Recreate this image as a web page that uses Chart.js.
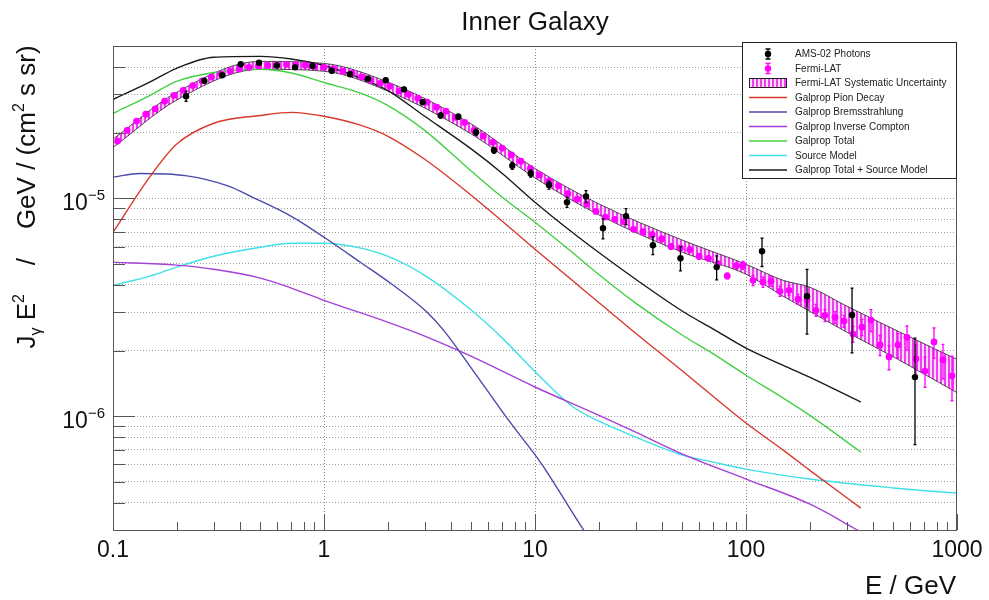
<!DOCTYPE html>
<html>
<head>
<meta charset="utf-8">
<script src="https://cdn.jsdelivr.net/npm/chart.js@4.4.1/dist/chart.umd.min.js"></script>
<style>
  html, body { margin: 0; padding: 0; background: #fff; }
</style>
</head>
<body>
<canvas id="spectrum" width="989" height="600"></canvas>
<script>
// ---- data (E in GeV, flux in GeV / (cm^2 s sr)) ----
var modelE = [0.1, 0.15, 0.2, 0.3, 0.5, 0.7, 1, 1.5, 2, 3, 5, 7, 10, 15, 20, 30, 50, 70, 100, 150, 200, 350];
var totalPlusSource = [2.84e-5, 3.42e-5, 3.95e-5, 4.44e-5, 4.48e-5, 4.36e-5, 4.07e-5, 3.55e-5, 3.13e-5, 2.38e-5, 1.68e-5, 1.30e-5, 9.59e-6, 6.98e-6, 5.65e-6, 4.25e-6, 3.03e-6, 2.51e-6, 2.05e-6, 1.71e-6, 1.51e-6, 1.16e-6];
var galpropTotal = [2.45e-5, 2.97e-5, 3.44e-5, 3.78e-5, 3.91e-5, 3.76e-5, 3.40e-5, 3.03e-5, 2.67e-5, 2.05e-5, 1.33e-5, 1.01e-5, 7.76e-6, 5.65e-6, 4.48e-6, 3.30e-6, 2.35e-6, 1.93e-6, 1.54e-6, 1.21e-6, 1.01e-6, 6.84e-7];
var pionDecay = [6.98e-6, 1.26e-5, 1.77e-5, 2.21e-5, 2.40e-5, 2.48e-5, 2.38e-5, 2.16e-5, 1.93e-5, 1.51e-5, 1.03e-5, 7.84e-6, 5.83e-6, 4.2e-6, 3.33e-6, 2.40e-6, 1.61e-6, 1.23e-6, 9.29e-7, 6.98e-7, 5.65e-7, 3.78e-7];

var bremsE = [0.1, 0.134, 0.22, 0.35, 0.46, 0.71, 1.03, 1.48, 2.12, 3.08, 3.66, 5.3, 7.6, 10.6, 16.9, 22];
var brems = [1.25e-5, 1.30e-5, 1.27e-5, 1.14e-5, 1.01e-5, 8.2e-6, 6.5e-6, 5.1e-6, 4.0e-6, 3.0e-6, 2.5e-6, 1.53e-6, 9.4e-7, 6.15e-7, 3.03e-7, 2.1e-7];

var icE = [0.1, 0.2, 0.3, 0.5, 0.7, 1, 2, 3, 5, 10, 20, 30, 50, 100, 200, 350];
var inverseCompton = [5.09e-6, 4.93e-6, 4.72e-6, 4.30e-6, 3.87e-6, 3.40e-6, 2.70e-6, 2.33e-6, 1.88e-6, 1.36e-6, 1.01e-6, 8.44e-7, 6.69e-7, 5.14e-7, 3.95e-7, 2.94e-7];

var sourceE = [0.1, 0.15, 0.2, 0.3, 0.5, 0.7, 1, 1.5, 2, 3, 5, 7, 10, 15, 20, 30, 50, 70, 100, 200, 500, 1000];
var sourceModel = [3.99e-6, 4.39e-6, 4.83e-6, 5.42e-6, 5.96e-6, 6.22e-6, 6.22e-6, 5.90e-6, 5.42e-6, 4.43e-6, 3.06e-6, 2.28e-6, 1.6e-6, 1.11e-6, 9.5e-7, 8.01e-7, 6.62e-7, 6.15e-7, 5.71e-7, 5.14e-7, 4.68e-7, 4.43e-7];

var bandE = [0.1, 0.2, 0.5, 1, 2, 5, 10, 20, 50, 100, 150, 200, 300, 500, 1000];
var bandUpper = [1.87e-5, 3.06e-5, 4.25e-5, 4.16e-5, 3.42e-5, 2.19e-5, 1.37e-5, 9.44e-6, 6.42e-6, 4.98e-6, 4.2e-6, 3.91e-6, 3.20e-6, 2.51e-6, 1.82e-6];
var bandLower = [1.71e-5, 2.82e-5, 3.91e-5, 3.83e-5, 3.11e-5, 1.97e-5, 1.24e-5, 8.40e-6, 5.65e-6, 4.48e-6, 3.55e-6, 3.03e-6, 2.43e-6, 1.87e-6, 1.28e-6];

var fermiE = [0.1052, 0.1166, 0.1292, 0.1431, 0.1585, 0.1756, 0.1945, 0.2154, 0.2387, 0.2644, 0.2929, 0.3245, 0.3594, 0.3981, 0.441, 0.4886, 0.5412, 0.5995, 0.6642, 0.7356, 0.815, 0.9028,
  1.0, 1.108, 1.227, 1.359, 1.506, 1.668, 1.848, 2.047, 2.268, 2.512, 2.783, 3.083, 3.415, 3.783, 4.19, 4.642, 5.142, 5.696, 6.31, 6.99, 7.743, 8.577, 9.502,
  10.52, 11.66, 12.92, 14.31, 15.85, 17.56, 19.45, 21.54, 23.87, 26.44, 29.29, 32.45, 35.94, 39.81, 44.1, 48.86, 54.12, 59.95, 66.42, 73.56, 81.5, 90.28,
  96.8, 108, 120.4, 131.4, 144.9, 159.9, 176.4, 194.6, 214.7, 236.7, 264.1, 291.4, 321.5, 354.6, 391.2, 431.6, 476.1, 525.3, 579.4, 639.2, 705.1, 778, 858.1, 946.9];
var fermiFlux = [1.83e-5, 2.05e-5, 2.26e-5, 2.43e-5, 2.57e-5, 2.79e-5, 2.97e-5, 3.13e-5, 3.29e-5, 3.46e-5, 3.60e-5, 3.72e-5, 3.84e-5, 3.92e-5, 3.99e-5, 4.05e-5, 4.07e-5, 4.09e-5, 4.12e-5, 4.10e-5, 4.08e-5, 4.03e-5,
  3.99e-5, 3.93e-5, 3.83e-5, 3.75e-5, 3.61e-5, 3.48e-5, 3.37e-5, 3.27e-5, 3.11e-5, 3.00e-5, 2.88e-5, 2.76e-5, 2.62e-5, 2.51e-5, 2.35e-5, 2.23e-5, 2.05e-5, 1.93e-5, 1.81e-5, 1.70e-5, 1.58e-5, 1.48e-5, 1.37e-5,
  1.28e-5, 1.20e-5, 1.14e-5, 1.05e-5, 9.9e-6, 9.4e-6, 8.7e-6, 8.2e-6, 8.0e-6, 7.8e-6, 7.2e-6, 7.0e-6, 6.8e-6, 6.5e-6, 6.0e-6, 5.9e-6, 5.8e-6, 5.4e-6, 5.3e-6, 5.0e-6, 4.4e-6, 4.9e-6,
  4.93e-6, 4.2e-6, 4.12e-6, 4.16e-6, 3.74e-6, 3.78e-6, 3.44e-6, 3.41e-6, 3.06e-6, 2.9e-6, 2.84e-6, 2.73e-6, 2.38e-6, 2.56e-6, 2.76e-6, 2.12e-6, 1.87e-6, 2.12e-6, 2.3e-6, 1.83e-6, 1.61e-6, 2.19e-6, 1.81e-6, 1.53e-6];
// relative errors of the Fermi points
var fermiRelErr = [0.01, 0.01, 0.01, 0.01, 0.01, 0.01, 0.01, 0.01, 0.01, 0.01, 0.01, 0.01, 0.01, 0.01, 0.01, 0.01, 0.01, 0.01, 0.01, 0.01, 0.01, 0.01,
  0.012, 0.012, 0.012, 0.012, 0.012, 0.012, 0.012, 0.012, 0.012, 0.012, 0.012, 0.012, 0.012, 0.012, 0.012, 0.012, 0.012, 0.012, 0.012, 0.012, 0.012, 0.012, 0.012,
  0.02, 0.02, 0.02, 0.02, 0.02, 0.02, 0.02, 0.02, 0.02, 0.02, 0.02, 0.03, 0.03, 0.03, 0.03, 0.03, 0.03, 0.03, 0.03, 0.03, 0.03, 0.03,
  0.042, 0.053, 0.053, 0.053, 0.053, 0.053, 0.053, 0.063, 0.063, 0.063, 0.063, 0.063, 0.085, 0.085, 0.116, 0.106, 0.127, 0.127, 0.127, 0.159, 0.159, 0.159, 0.18, 0.233];

var amsE = [0.222, 0.271, 0.329, 0.403, 0.492, 0.597, 0.729, 0.882, 1.088, 1.328, 1.616, 1.961, 2.394, 2.936, 3.574, 4.331, 5.254, 6.393, 7.805, 9.541, 11.65, 14.18, 17.45, 21.0, 27.0, 36.2, 48.9, 72.6, 119.1, 194.6, 318.1, 632.2];
var amsFlux = [2.94e-5, 3.46e-5, 3.67e-5, 4.12e-5, 4.19e-5, 4.07e-5, 3.99e-5, 4.05e-5, 3.85e-5, 3.71e-5, 3.54e-5, 3.48e-5, 3.16e-5, 2.76e-5, 2.40e-5, 2.37e-5, 2.01e-5, 1.66e-5, 1.41e-5, 1.30e-5, 1.15e-5, 9.59e-6, 1.02e-5, 7.28e-6, 8.27e-6, 6.09e-6, 5.31e-6, 4.83e-6, 5.71e-6, 3.55e-6, 2.91e-6, 1.51e-6];
var amsErr = [1.56e-6, 0.73e-6, 0.77e-6, 0.87e-6, 0.88e-6, 0.85e-6, 0.84e-6, 0.85e-6, 0.81e-6, 0.78e-6, 0.74e-6, 0.73e-6, 0.66e-6, 0.58e-6, 0.63e-6, 0.62e-6, 0.64e-6, 0.53e-6, 0.52e-6, 0.48e-6, 0.48e-6, 0.51e-6, 0.65e-6, 0.77e-6, 0.70e-6, 0.58e-6, 0.67e-6, 0.61e-6, 0.85e-6, 1.17e-6, 0.96e-6, 0.77e-6];

// axes
var xTickValues = [0.1, 0.2, 0.3, 0.4, 0.5, 0.6, 0.7, 0.8, 0.9, 1, 2, 3, 4, 5, 6, 7, 8, 9, 10, 20, 30, 40, 50, 60, 70, 80, 90, 100, 200, 300, 400, 500, 600, 700, 800, 900, 1000];
var yTickValues = [3e-7, 4e-7, 5e-7, 6e-7, 7e-7, 8e-7, 9e-7, 1e-6, 2e-6, 3e-6, 4e-6, 5e-6, 6e-6, 7e-6, 8e-6, 9e-6, 1e-5, 2e-5, 3e-5, 4e-5];
var xLabelValues = [0.1, 1, 10, 100, 1000];
var xLabels = ['0.1', '1', '10', '100', '1000'];
var yLabelValues = [1e-6, 1e-5];
var yLabelExps = ['\u22126', '\u22125'];

var FONT = '"Liberation Sans", Arial, Helvetica, sans-serif';

function pairs(xs, ys) {
    return xs.map(function (x, i) { return { x: x, y: ys[i] }; });
}
function isDecade(v) {
    var l = Math.log10(v);
    return Math.abs(l - Math.round(l)) < 1e-9;
}

var canvas = document.getElementById('spectrum');
var ctx = canvas.getContext('2d');

// hatch used by the systematic band
var hatch = document.createElement('canvas');
hatch.width = 4; hatch.height = 4;
var hctx = hatch.getContext('2d');
hctx.fillStyle = 'rgba(255,175,255,0.45)';
hctx.fillRect(0, 0, 4, 4);
hctx.fillStyle = 'rgba(230,0,230,0.7)';
hctx.fillRect(0, 0, 2, 4);
var hatchPattern = ctx.createPattern(hatch, 'repeat');

function curve(label, xs, ys, color) {
    return {
        label: label, data: pairs(xs, ys), borderColor: color, backgroundColor: color,
        borderWidth: 1.4, pointRadius: 0, fill: false, cubicInterpolationMode: 'monotone', order: 2
    };
}

var amsData = pairs(amsE, amsFlux);
var fermiData = pairs(fermiE, fermiFlux);

var datasets = [
    { label: 'AMS-02 Photons', data: amsData, errors: amsErr, errorColor: '#000', showLine: false,
      pointRadius: 3.2, pointBackgroundColor: '#000', pointBorderWidth: 0, borderColor: '#000', order: 0, kind: 'marker' },
    { label: 'Fermi-LAT', data: fermiData, errors: fermiFlux.map(function (f, i) { return f * fermiRelErr[i]; }),
      errorColor: '#ff00ff', showLine: false, pointRadius: 3.4, pointBackgroundColor: '#ff00ff', pointBorderWidth: 0,
      borderColor: '#ff00ff', order: 1, kind: 'marker' },
    { label: 'band-upper', data: pairs(bandE, bandUpper), borderColor: '#222', borderWidth: 0.8, pointRadius: 0,
      fill: false, cubicInterpolationMode: 'monotone', order: 5 },
    { label: 'Fermi-LAT Systematic Uncertainty', data: pairs(bandE, bandLower), borderColor: '#222', borderWidth: 0.8,
      pointRadius: 0, fill: '-1', backgroundColor: hatchPattern, cubicInterpolationMode: 'monotone', order: 5, kind: 'band' },
    curve('Galprop Pion Decay', modelE, pionDecay, '#d8392b'),
    curve('Galprop Bremsstrahlung', bremsE, brems, '#4a4aa8'),
    curve('Galprop Inverse Compton', icE, inverseCompton, '#a640d8'),
    curve('Galprop Total', modelE, galpropTotal, '#44d044'),
    curve('Source Model', sourceE, sourceModel, '#3fe0e6'),
    curve('Galprop Total + Source Model', modelE, totalPlusSource, '#1a1a1a')
];

var errorBars = {
    id: 'errorBars',
    beforeDatasetDraw: function (chart, args) {
        var ds = chart.data.datasets[args.index];
        if (!ds.errors) return;
        var c = chart.ctx, xs = chart.scales.x, ys = chart.scales.y, a = chart.chartArea;
        c.save();
        c.beginPath();
        c.rect(a.left, a.top, a.right - a.left, a.bottom - a.top);
        c.clip();
        c.strokeStyle = ds.errorColor;
        c.lineWidth = 1.3;
        ds.data.forEach(function (p, i) {
            var px = xs.getPixelForValue(p.x);
            var top = ys.getPixelForValue(p.y + ds.errors[i]);
            var bot = ys.getPixelForValue(Math.max(p.y - ds.errors[i], 1e-9));
            c.beginPath();
            c.moveTo(px, top); c.lineTo(px, bot);
            c.moveTo(px - 1.5, top); c.lineTo(px + 1.5, top);
            c.moveTo(px - 1.5, bot); c.lineTo(px + 1.5, bot);
            c.stroke();
        });
        c.restore();
    }
};

function drawRich(c, parts, x, y, align) {
    var total = 0;
    parts.forEach(function (p) {
        c.font = p.s + 'px ' + FONT;
        p.w = c.measureText(p.t).width;
        total += p.w;
    });
    var cx = align === 'right' ? x - total : (align === 'center' ? x - total / 2 : x);
    parts.forEach(function (p) {
        c.font = p.s + 'px ' + FONT;
        c.fillText(p.t, cx, y + (p.dy || 0));
        cx += p.w;
    });
}

var rootFrame = {
    id: 'rootFrame',
    afterDraw: function (chart) {
        var c = chart.ctx, a = chart.chartArea, xs = chart.scales.x, ys = chart.scales.y;
        c.save();
        c.strokeStyle = '#555';
        c.lineWidth = 1;
        c.strokeRect(a.left + 0.5, a.top + 0.5, a.right - a.left - 1, a.bottom - a.top);
        c.beginPath();
        xTickValues.forEach(function (v) {
            var px = Math.round(xs.getPixelForValue(v)) + 0.5;
            var len = isDecade(v) ? 16 : 8;
            c.moveTo(px, a.bottom); c.lineTo(px, a.bottom - len);
        });
        yTickValues.forEach(function (v) {
            var py = Math.round(ys.getPixelForValue(v)) + 0.5;
            var len = isDecade(v) ? 22 : 12;
            c.moveTo(a.left, py); c.lineTo(a.left + len, py);
        });
        c.stroke();

        c.fillStyle = '#111';
        c.textBaseline = 'alphabetic';
        c.textAlign = 'left';
        xLabelValues.forEach(function (v, i) {
            drawRich(c, [{ t: xLabels[i], s: 23 }], xs.getPixelForValue(v), 557, 'center');
        });
        yLabelValues.forEach(function (v, i) {
            var py = ys.getPixelForValue(v);
            drawRich(c, [{ t: '10', s: 23 }, { t: yLabelExps[i], s: 15, dy: -10 }], 105, py + 11.5, 'right');
        });

        // titles
        drawRich(c, [{ t: 'Inner Galaxy', s: 26 }], 535, 30, 'center');
        drawRich(c, [{ t: 'E / GeV', s: 26 }], 956, 594, 'right');
        c.save();
        c.translate(35, 197);
        c.rotate(-Math.PI / 2);
        drawRich(c, [
            { t: 'J', s: 26 }, { t: '\u03b3', s: 16, dy: 6 }, { t: ' E', s: 26 }, { t: '2', s: 16, dy: -11 },
            { t: '    /    GeV / (cm', s: 26 }, { t: '2', s: 16, dy: -11 }, { t: ' s sr)', s: 26 }
        ], 0, 0, 'center');
        c.restore();

        // legend box
        var L = { left: 742, top: 42, right: 957, bottom: 178 };
        c.fillStyle = '#fff';
        c.fillRect(L.left, L.top, L.right - L.left, L.bottom - L.top);
        c.strokeStyle = '#222';
        c.strokeRect(L.left + 0.5, L.top + 0.5, L.right - L.left - 1, L.bottom - L.top);
        var rowY = L.top + 12;
        c.font = '10px ' + FONT;
        c.textBaseline = 'middle';
        chart.data.datasets.forEach(function (ds) {
            if (ds.label === 'band-upper') return;
            var y = rowY;
            if (ds.kind === 'marker') {
                c.strokeStyle = ds.errorColor; c.lineWidth = 1.3;
                c.beginPath();
                c.moveTo(768, y - 5); c.lineTo(768, y + 5);
                c.moveTo(765.5, y - 5); c.lineTo(770.5, y - 5);
                c.moveTo(765.5, y + 5); c.lineTo(770.5, y + 5);
                c.stroke();
                c.fillStyle = ds.pointBackgroundColor;
                c.beginPath(); c.arc(768, y, 3.2, 0, Math.PI * 2); c.fill();
            } else if (ds.kind === 'band') {
                c.fillStyle = '#fff';
                c.fillRect(749, y - 5, 38, 10);
                c.fillStyle = hatchPattern;
                c.fillRect(749, y - 5, 38, 10);
                c.strokeStyle = '#222'; c.lineWidth = 1;
                c.strokeRect(749.5, y - 4.5, 37, 9);
            } else {
                c.strokeStyle = ds.borderColor; c.lineWidth = 1.4;
                c.beginPath(); c.moveTo(749, y); c.lineTo(787, y); c.stroke();
            }
            c.fillStyle = '#222';
            c.fillText(ds.label, 795, y + 0.5);
            rowY += 14.5;
        });
        c.restore();
    }
};

var spectrumChart = new Chart(ctx, {
    type: 'line',
    data: { datasets: datasets },
    options: {
        responsive: false,
        animation: false,
        events: [],
        layout: { padding: { left: 113, right: 32, top: 46, bottom: 70 } },
        plugins: { legend: { display: false }, tooltip: { enabled: false } },
        scales: {
            x: {
                type: 'logarithmic', min: 0.1, max: 1000,
                afterBuildTicks: function (s) { s.ticks = xTickValues.map(function (v) { return { value: v }; }); },
                afterFit: function (s) { s.height = 0; },
                ticks: { display: false },
                grid: {
                    drawTicks: false, lineWidth: 1,
                    color: function (c) {
                        var v = c.tick && c.tick.value;
                        return v && isDecade(v) && v > 0.1 && v < 1000 ? '#8a8a8a' : 'rgba(0,0,0,0)';
                    }
                },
                border: { display: false, dash: [1, 2] }
            },
            y: {
                type: 'logarithmic', min: 3e-7, max: 5e-5,
                afterBuildTicks: function (s) { s.ticks = yTickValues.map(function (v) { return { value: v }; }); },
                afterFit: function (s) { s.width = 0; },
                ticks: { display: false },
                grid: { drawTicks: false, lineWidth: 1, color: '#9c9c9c' },
                border: { display: false, dash: [1, 2] }
            }
        }
    },
    plugins: [errorBars, rootFrame]
});
</script>
</body>
</html>
